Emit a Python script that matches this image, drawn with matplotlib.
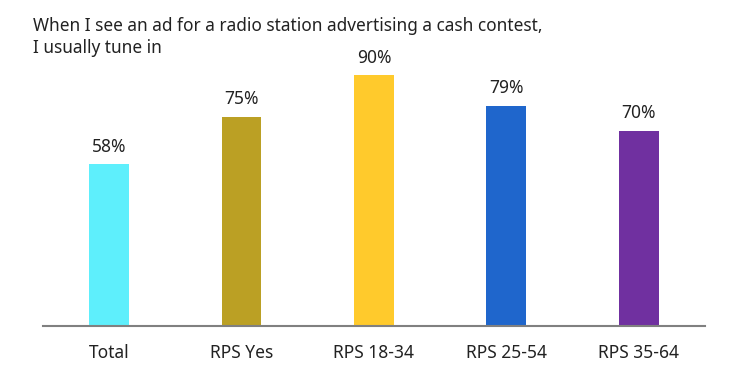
import matplotlib.pyplot as plt

plt.rcParams['font.family'] = ['Noto Sans', 'DejaVu Sans']

categories = ['Total', 'RPS Yes', 'RPS 18-34', 'RPS 25-54', 'RPS 35-64']
values = [58, 75, 90, 79, 70]
colors = ['#5EEFFC', '#BBA024', '#FFCA2C', '#1F66CC', '#7030A0']
title_lines = ['When I see an ad for a radio station advertising a cash contest,',
               'I usually tune in']

fig = plt.figure(figsize=(7.35, 3.76), dpi=100)
ax = fig.add_axes([0.0585, 0.133, 0.9005, 0.742])

x = range(len(categories))
bars = ax.bar(x, values, width=0.3, color=colors)
for b, v in zip(bars, values):
    ax.text(b.get_x() + b.get_width() / 2, v + 3, f'{v}%', ha='center', va='bottom',
            fontsize=12.5, color='#222222')

ax.set_xlim(-0.5, len(categories) - 0.5)
ax.set_ylim(0, 100)
ax.set_xticks(list(x))
ax.set_xticklabels(categories, fontsize=12.5, color='#222222')
ax.tick_params(axis='x', length=0, pad=13)
ax.set_yticks([])
for s in ['top', 'right', 'left']:
    ax.spines[s].set_visible(False)
ax.spines['bottom'].set_color('#808080')
ax.spines['bottom'].set_linewidth(1.5)

# title as two separate lines
fig.text(0.045, 0.955, title_lines[0], ha='left', va='top', fontsize=12.4, color='#222222')
fig.text(0.045, 0.895, title_lines[1], ha='left', va='top', fontsize=12.4, color='#222222')

fig.savefig('out.png', dpi=100)
